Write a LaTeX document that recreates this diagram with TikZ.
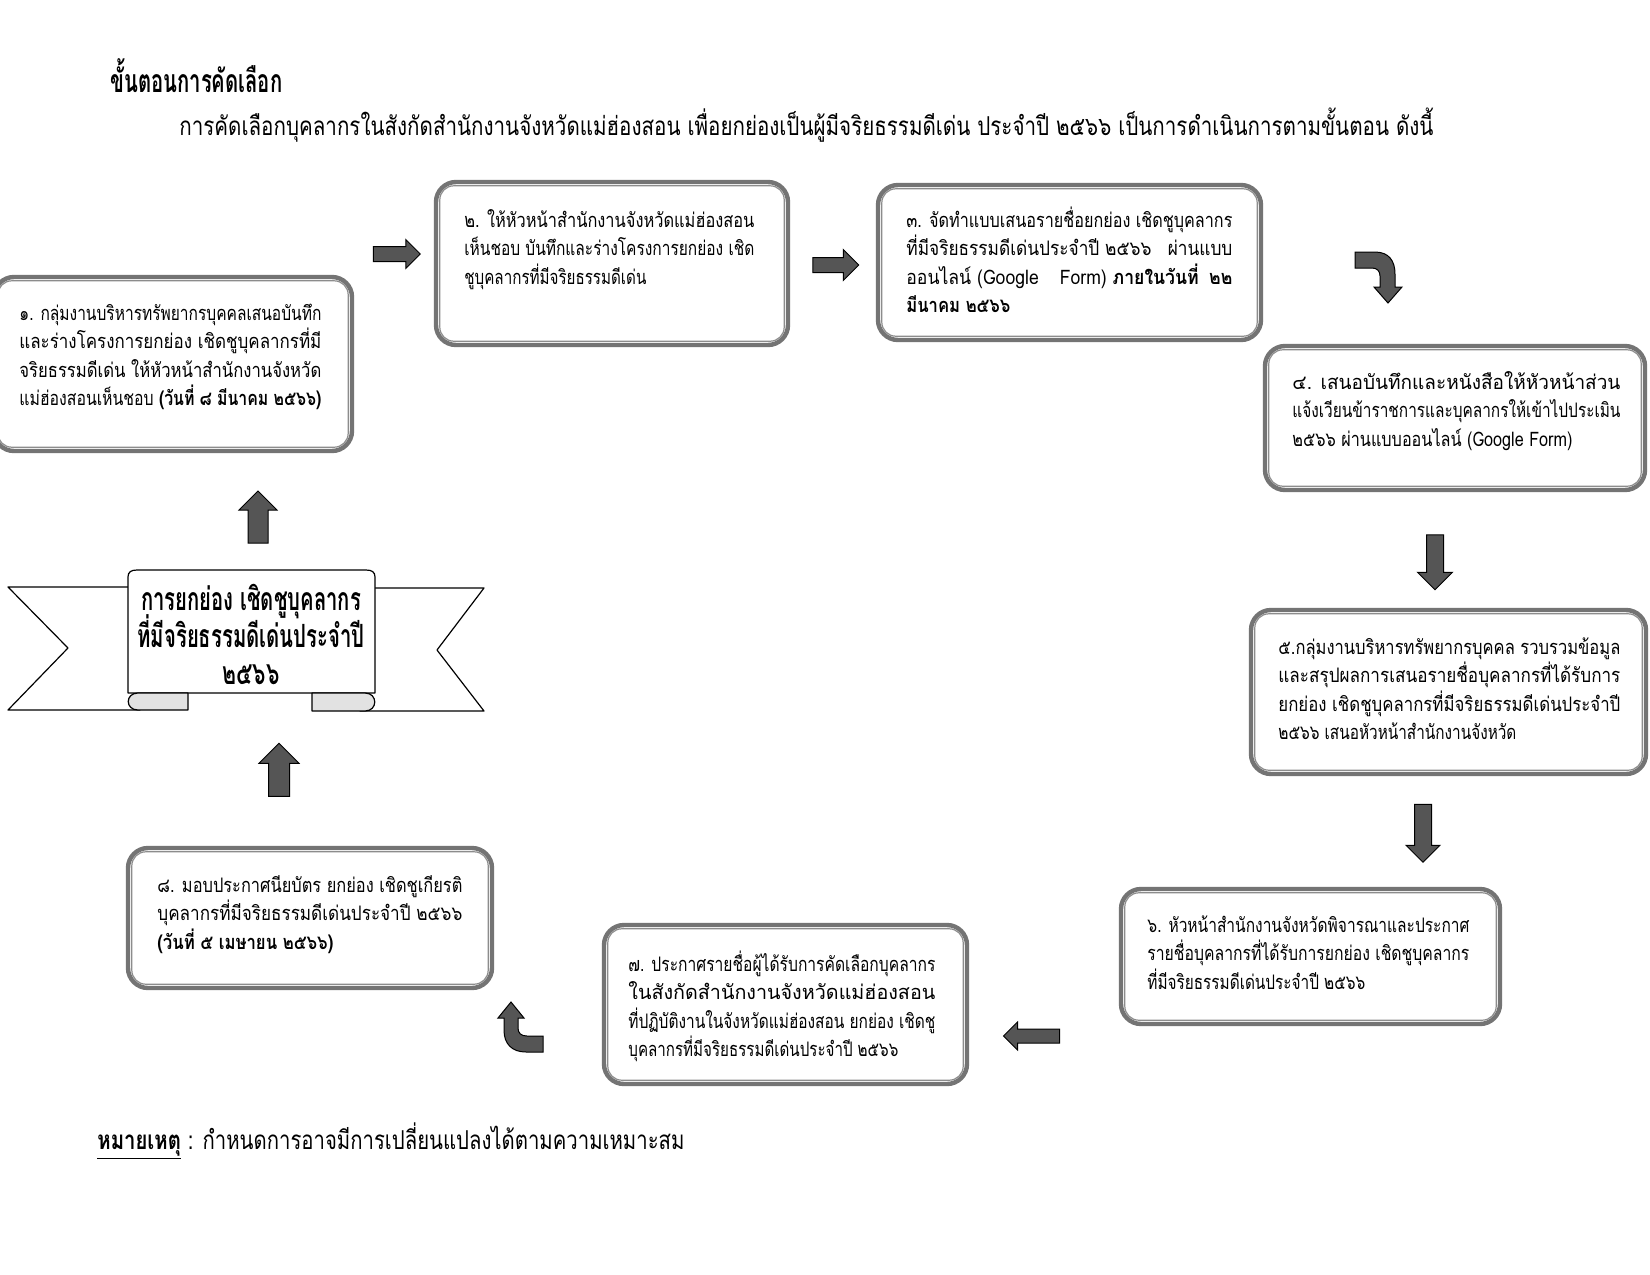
\documentclass[tikz,border=0pt]{standalone}
\usepackage{fontspec}
\usepackage{graphicx}
\setmainfont[Script=Thai]{Loma}
\usetikzlibrary{shapes.arrows,fit}
\definecolor{bordc}{HTML}{747474}
\definecolor{innerc}{HTML}{8C8C8C}
\definecolor{arrowc}{HTML}{555555}
\definecolor{flapc}{HTML}{E2E2E2}
\newcommand\tln[2]{\hbox{\resizebox{#1}{\height}{#2}}}
\newcommand\tightls{\lineskiplimit=-100pt\relax}
\newcommand\boxfont{\fontsize{10}{14.3}\selectfont\tightls}
\newcommand\banfont{\fontsize{16}{18.5}\selectfont\bfseries\tightls}
\tikzset{
  box/.style={draw=bordc, line width=2.2pt, rounded corners=10pt, fill=white, inner sep=0pt},
  innerbox/.style={draw=innerc, line width=0.6pt, rounded corners=7pt},
  txt/.style={anchor=base west, inner sep=0pt, font=\boxfont},
  arr/.style n args={4}{single arrow, draw=black, line width=0.5pt, fill=arrowc,
     inner sep=#1, single arrow head extend=#2, minimum height=#3, shape border rotate=#4, anchor=center},
  ribbon/.style={draw=black, line width=0.6pt, fill=white, line join=round},
  flap/.style={draw=black, line width=0.6pt, fill=flapc, line join=round},
  curvarr/.style={draw=black, line width=0.5pt, fill=arrowc}
}
\begin{document}
\begin{tikzpicture}[x=0.5pt,y=-0.5pt]
\useasboundingbox (0,0) rectangle (1650,1275);
\fill[white] (0,0) rectangle (1650,1275);

% heading
\node[anchor=base west, inner sep=0pt, font=\fontsize{16}{18}\selectfont] (title) at (110,92)
  {\resizebox{86pt}{\height}{\bfseries ขั้นตอนการคัดเลือก}};
\node[anchor=base west, inner sep=0pt, font=\fontsize{13}{16}\selectfont] (intro) at (179,135)
  {\resizebox{627pt}{\height}{การคัดเลือกบุคลากรในสังกัดสำนักงานจังหวัดแม่ฮ่องสอน เพื่อยกย่องเป็นผู้มีจริยธรรมดีเด่น ประจำปี ๒๕๖๖ เป็นการดำเนินการตามขั้นตอน ดังนี้}};

% boxes
\node[box, fit={(-6,277) (352,451)}] (b1) {};
\node[box, fit={(436,182) (788,345)}] (b2) {};
\node[box, fit={(878,185) (1261,340)}] (b3) {};
\node[box, fit={(1265,346) (1645,490)}] (b4) {};
\node[box, fit={(1251,610) (1646,774)}] (b5) {};
\node[box, fit={(1121,889) (1500,1024)}] (b6) {};
\node[box, fit={(604,925) (967,1084)}] (b7) {};
\node[box, fit={(128,848) (492,988)}] (b8) {};
\foreach \b in {b1,b2,b3,b4,b5,b6,b7,b8}
  \draw[innerbox] ([shift={(6,6)}]\b.north west) rectangle ([shift={(-6,-6)}]\b.south east);

% box texts
\node[txt] (t1) at (19,320) {\vtop{%
  \tln{151pt}{๑. กลุ่มงานบริหารทรัพยากรบุคคลเสนอบันทึก}%
  \tln{151pt}{และร่างโครงการยกย่อง เชิดชูบุคลากรที่มี}%
  \tln{151pt}{จริยธรรมดีเด่น ให้หัวหน้าสำนักงานจังหวัด}%
  \tln{151pt}{แม่ฮ่องสอนเห็นชอบ \textbf{(วันที่ ๘ มีนาคม ๒๕๖๖)}}}};
\node[txt] (t2) at (464,227) {\vtop{%
  \tln{145pt}{๒. ให้หัวหน้าสำนักงานจังหวัดแม่ฮ่องสอน}%
  \tln{145pt}{เห็นชอบ บันทึกและร่างโครงการยกย่อง เชิด}%
  \tln{91pt}{ชูบุคลากรที่มีจริยธรรมดีเด่น}}};
\node[txt] (t3) at (906,227) {\vtop{%
  \tln{163pt}{๓. จัดทำแบบเสนอรายชื่อยกย่อง เชิดชูบุคลากร}%
  \tln{163pt}{ที่มีจริยธรรมดีเด่นประจำปี ๒๕๖๖\hspace{0.6em} ผ่านแบบ}%
  \tln{163pt}{ออนไลน์ (Google\hspace{1.2em}Form) \textbf{ภายในวันที่\hspace{0.6em}๒๒}}%
  \tln{52pt}{\textbf{มีนาคม ๒๕๖๖}}}};
\node[txt] (t4) at (1292,389) {\vtop{%
  \tln{164pt}{๔. เสนอบันทึกและหนังสือให้หัวหน้าส่วน}%
  \tln{164pt}{แจ้งเวียนข้าราชการและบุคลากรให้เข้าไปประเมิน}%
  \tln{140pt}{๒๕๖๖ ผ่านแบบออนไลน์ (Google Form)}}};
\node[txt] (t5) at (1278,654) {\vtop{%
  \tln{171pt}{๕.กลุ่มงานบริหารทรัพยากรบุคคล รวบรวมข้อมูล}%
  \tln{171pt}{และสรุปผลการเสนอรายชื่อบุคลากรที่ได้รับการ}%
  \tln{171pt}{ยกย่อง เชิดชูบุคลากรที่มีจริยธรรมดีเด่นประจำปี}%
  \tln{119pt}{๒๕๖๖ เสนอหัวหน้าสำนักงานจังหวัด}}};
\node[txt] (t6) at (1147,932) {\vtop{%
  \tln{161pt}{๖. หัวหน้าสำนักงานจังหวัดพิจารณาและประกาศ}%
  \tln{161pt}{รายชื่อบุคลากรที่ได้รับการยกย่อง เชิดชูบุคลากร}%
  \tln{109pt}{ที่มีจริยธรรมดีเด่นประจำปี ๒๕๖๖}}};
\node[txt] (t7) at (628,971) {\vtop{%
  \tln{153.5pt}{๗. ประกาศรายชื่อผู้ได้รับการคัดเลือกบุคลากร}%
  \tln{153.5pt}{ในสังกัดสำนักงานจังหวัดแม่ฮ่องสอน}%
  \tln{153.5pt}{ที่ปฏิบัติงานในจังหวัดแม่ฮ่องสอน ยกย่อง เชิดชู}%
  \tln{135pt}{บุคลากรที่มีจริยธรรมดีเด่นประจำปี ๒๕๖๖}}};
\node[txt] (t8) at (157,892) {\vtop{%
  \tln{152.5pt}{๘. มอบประกาศนียบัตร ยกย่อง เชิดชูเกียรติ}%
  \tln{152.5pt}{บุคลากรที่มีจริยธรรมดีเด่นประจำปี ๒๕๖๖}%
  \tln{88pt}{\textbf{(วันที่ ๕ เมษายน ๒๕๖๖)}}}};

% block arrows
\node[arr={3.5pt}{3.5pt}{23.5pt}{0}] (a12) at (393,254) {};
\node[arr={3.5pt}{4pt}{23pt}{0}] (a23) at (832,265) {};
\node[arr={4pt}{4.5pt}{27.5pt}{270}] (a45) at (1435,558) {};
\node[arr={4pt}{4.25pt}{29pt}{270}] (a56) at (1423,829) {};
\node[arr={3.25pt}{3.5pt}{28pt}{180}] (a67) at (1035,1036) {};
\node[arr={4.75pt}{4.5pt}{26pt}{90}] (a01) at (258,522) {};
\node[arr={5pt}{4.75pt}{26.5pt}{90}] (a80) at (279,775) {};

% curved arrow 3 -> 4
\draw[curvarr] (1355,252) -- (1375,252) .. controls (1389,252) and (1395,261) .. (1395,274)
  -- (1395,287) -- (1402,287) -- (1388,303) -- (1374,287) -- (1380,287) -- (1380,276)
  .. controls (1380,271) and (1377,268) .. (1372,268) -- (1355,268) -- cycle;
% curved arrow 7 -> 8
\draw[curvarr] (511,1002) -- (524,1018) -- (518,1018) -- (518,1028)
  .. controls (518,1033) and (521,1036) .. (527,1036) -- (543,1036) -- (543,1052) -- (526,1052)
  .. controls (512,1052) and (504,1044) .. (504,1030) -- (504,1018) -- (498,1018) -- cycle;

% banner
\draw[ribbon] (8,587) -- (140,587) -- (140,710) -- (8,710) -- (68,648) -- cycle;
\draw[ribbon] (484,588) -- (360,588) -- (360,711) -- (484,711) -- (437,650) -- cycle;
\draw[ribbon] (128,693) -- (128,577) .. controls (128,572) and (131,570) .. (137,570)
  -- (366,570) .. controls (372,570) and (375,572) .. (375,577) -- (375,693) -- cycle;
\draw[flap] (188,693) -- (188,710) -- (138,710) .. controls (125,710) and (125,693) .. (138,693) -- cycle;
\draw[flap] (312,693) -- (312,711) -- (365,711) .. controls (378,711) and (378,693) .. (365,693) -- cycle;
\node[anchor=base, inner sep=0pt, font=\banfont] (ban) at (251,610)
  {\vtop{\hbox to 120pt{\hss\resizebox{110pt}{\height}{การยกย่อง เชิดชูบุคลากร}\hss}%
         \hbox to 120pt{\hss\resizebox{113.5pt}{\height}{ที่มีจริยธรรมดีเด่นประจำปี}\hss}%
         \hbox to 120pt{\hss\resizebox{28.5pt}{\height}{๒๕๖๖}\hss}}};

% footnote
\node[anchor=base west, inner sep=0pt, font=\fontsize{13}{16}\selectfont] (note) at (97,1149)
  {\resizebox{293.5pt}{\height}{\underline{\textbf{หมายเหตุ}} : กำหนดการอาจมีการเปลี่ยนแปลงได้ตามความเหมาะสม}};
\end{tikzpicture}
\end{document}
